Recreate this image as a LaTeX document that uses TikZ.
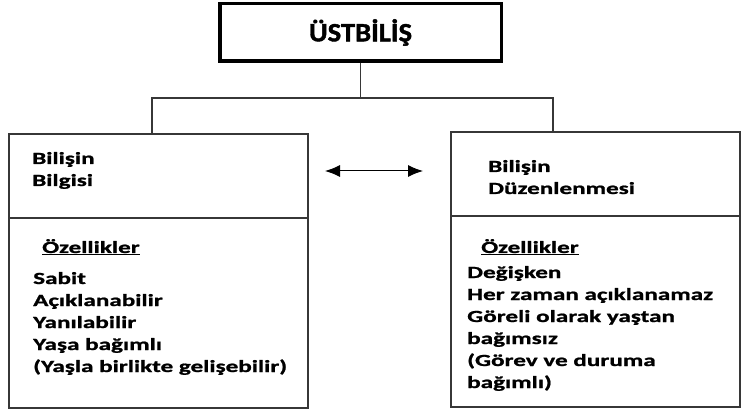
\documentclass[tikz,border=0pt]{standalone}
\usepackage{fontspec}
\setmainfont{Carlito}
\newfontfamily\bodyfont{Carlito}[FakeStretch=1.48,FakeBold=1.2]
\newfontfamily\titlefont{Carlito}[FakeStretch=1.08,FakeBold=1.5]
\usetikzlibrary{arrows.meta,positioning}
\definecolor{LineGray}{RGB}{55,55,55}
\tikzset{
  titlebox/.style={draw=black,line width=3.5pt,minimum width=281.5pt,
    minimum height=57.5pt,inner sep=0pt,
    font=\titlefont\bfseries\fontsize{26.5}{30}\selectfont},
  panel/.style={draw=LineGray,line width=1.6pt,inner sep=0pt},
  label/.style={anchor=base west,inner sep=0pt,align=left,
    font=\bodyfont\bfseries\fontsize{17}{22}\selectfont},
  tree/.style={draw=LineGray,line width=1.2pt},
  arrow/.style={{Latex[length=15pt,width=12pt]}-{Latex[length=15pt,width=12pt]},line width=1pt,black}
}

\begin{document}
\begin{tikzpicture}[x=1pt,y=-1pt]
  \useasboundingbox (0,0) rectangle (742,414);
  \node[titlebox] (top) at (360.5,32.5) {ÜSTBİLİŞ};
  \node[panel,minimum width=299pt,minimum height=274pt] (kn) at (158.5,271) {};
  \node[panel,minimum width=289pt,minimum height=275pt] (reg) at (595.5,269.5) {};
  \draw[tree] (kn.west |- 0,218) -- (kn.east |- 0,218);
  \draw[tree] (reg.west |- 0,216) -- (reg.east |- 0,216);
  \coordinate (lj) at (152,98);
  \coordinate (rj) at (553,98);
  \draw[tree] (top.south) -- (top.south |- lj);
  \draw[tree] (lj |- kn.north) -- (lj) -- (rj) -- (rj |- reg.north);
  \coordinate (al) at (325,171);
  \coordinate (ar) at (423,171);
  \draw[arrow] (al) -- (ar);
  \node[label] (knh) at (32,186) {Bilişin\\Bilgisi};
  \node[label] (knf) at (42,253) {\underline{Özellikler}};
  \node[label] (knl) at (33,372) {Sabit\\Açıklanabilir\\Yanılabilir\\Yaşa bağımlı\\(Yaşla birlikte gelişebilir)};
  \node[label] (regh) at (488,194) {Bilişin\\Düzenlenmesi};
  \node[label] (regf) at (481,253) {\underline{Özellikler}};
  \node[label] (regl) at (467,388) {Değişken\\Her zaman açıklanamaz\\Göreli olarak yaştan\\bağımsız\\(Görev ve duruma\\bağımlı)};
\end{tikzpicture}
\end{document}
